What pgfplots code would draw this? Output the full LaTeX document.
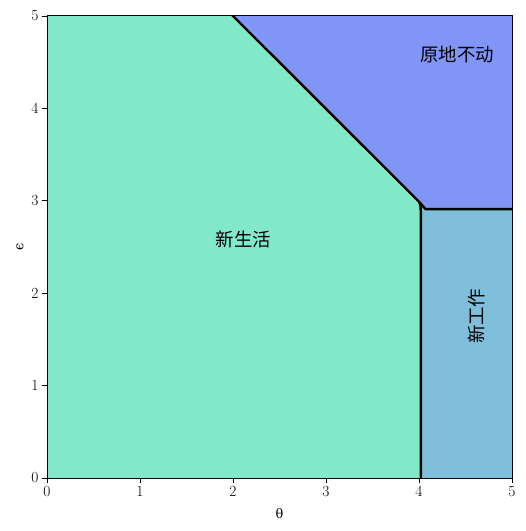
\documentclass[border=0pt]{standalone}
\usepackage{fontspec}
\usepackage{pgfplots}
\pgfplotsset{compat=1.18}
\newfontfamily\cjk{Noto Sans CJK SC}
\newfontfamily\grk{DejaVu Serif}
\definecolor{cgreen}{RGB}{130,232,202}
\definecolor{cpurple}{RGB}{128,149,245}
\definecolor{cblue}{RGB}{127,191,220}
\begin{document}
\begin{tikzpicture}
\begin{axis}[at={(0,0)}, anchor=south west, scale only axis,
  width=465bp, height=462bp,
  xmin=0, xmax=5, ymin=0, ymax=5,
  xtick={0,1,2,3,4,5}, ytick={0,1,2,3,4,5},
  tick align=outside, xtick pos=bottom, ytick pos=left,
  major tick length=5bp,
  tick style={black, line width=0.8pt},
  axis line style={line width=1pt},
  axis on top,
  /pgf/number format/assume math mode=true,
  tick label style={font=\fontsize{15.5}{15.5}\selectfont},
  every axis x label/.style={at={(axis description cs:0.5,0)}, yshift=-36bp, anchor=center, font=\grk\fontsize{13}{13}\selectfont},
  every axis y label/.style={at={(axis description cs:0,0.5)}, xshift=-27bp, anchor=center, rotate=90, font=\grk\fontsize{13}{13}\selectfont},
  xlabel={θ}, ylabel={ϵ},
]
\addplot[fill=cgreen, draw=none] coordinates {(0,0) (0,5) (2.0,5) (4.0,2.99) (4.02,2.93) (4.02,0)} -- cycle;
\addplot[fill=cpurple, draw=none] coordinates {(2.0,5) (5,5) (5,2.91) (4.07,2.91) (4.0,2.99)} -- cycle;
\addplot[fill=cblue, draw=none] coordinates {(4.0,2.99) (4.07,2.91) (5,2.91) (5,0) (4.02,0) (4.02,2.93)} -- cycle;
\addplot[black, line width=2.4bp, line join=round] coordinates {(1.98,5.02) (4.0,2.99)};
\addplot[black, line width=2.4bp, line join=round] coordinates {(4.0,2.99) (4.015,2.95) (4.02,2.88) (4.02,-0.02)};
\addplot[black, line width=2.4bp, line join=round] coordinates {(4.0,2.99) (4.07,2.91) (5.02,2.91)};
\node[font=\cjk\fontsize{18.5}{20}\selectfont] at (axis cs:2.11,2.58) {新生活};
\node[font=\cjk\fontsize{18.5}{20}\selectfont] at (axis cs:4.41,4.58) {原地不动};
\node[font=\cjk\fontsize{18.5}{20}\selectfont, rotate=90] at (axis cs:4.62,1.75) {新工作};
\end{axis}
\useasboundingbox (-47bp,-53bp) rectangle (479bp,478bp);
\end{tikzpicture}
\end{document}
